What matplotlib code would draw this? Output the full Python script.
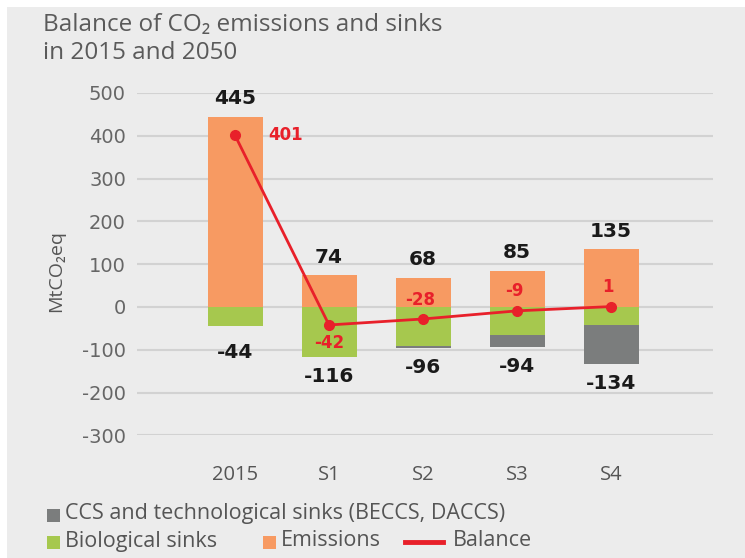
import matplotlib
matplotlib.use('Agg')
import matplotlib.pyplot as plt
from matplotlib.patches import Rectangle
from matplotlib.lines import Line2D
import numpy as np

categories = ['2015', 'S1', 'S2', 'S3', 'S4']
emissions = [445, 74, 68, 85, 135]
bio_sinks = [-44, -116, -90, -66, -42]
ccs_sinks = [0, 0, -6, -28, -92]
total_sinks = [-44, -116, -96, -94, -134]
balance = [401, -42, -28, -9, 1]
yticks = [-300, -200, -100, 0, 100, 200, 300, 400, 500]

C_EMI = '#F79A62'
C_BIO = '#A6C84E'
C_CCS = '#7B7D7D'
C_BAL = '#E8202A'
BG = '#ECECEC'
HUM = ['Open Sans', 'DejaVu Sans']
GEO = ['DejaVu Sans']

W, H = 745, 558
fig = plt.figure(figsize=(W / 100, H / 100), dpi=100)
fig.patch.set_facecolor('white')
fig.patches.append(Rectangle((7 / W, 0), 1, (H - 7) / H, transform=fig.transFigure,
                             facecolor=BG, edgecolor='none', zorder=-10))

ax = fig.add_axes([137 / W, (H - 435.4) / H, (713 - 137) / W, (435.4 - 93) / H])
ax.set_facecolor('none')

x = np.arange(len(categories))
bw = 0.585
ax.bar(x, emissions, width=bw, color=C_EMI, zorder=2)
ax.bar(x, bio_sinks, width=bw, color=C_BIO, zorder=2)
ax.bar(x, ccs_sinks, width=bw, bottom=bio_sinks, color=C_CCS, zorder=2)
ax.plot(x, balance, color=C_BAL, lw=2, marker='o', ms=7, zorder=4)

for xi, v in zip(x, emissions):
    ax.annotate(str(v), (xi, v), xytext=(0, 13), textcoords='offset points',
                ha='center', va='center', fontsize=14.5, fontweight='bold',
                color='#1a1a1a', family=GEO, annotation_clip=False)
for i, (xi, v) in enumerate(zip(x, total_sinks)):
    dy = -19 if i == 0 else -14
    ax.annotate(str(v), (xi, v), xytext=(0, dy), textcoords='offset points',
                ha='center', va='center', fontsize=14.5, fontweight='bold',
                color='#1a1a1a', family=GEO, annotation_clip=False)
for i, (xi, v) in enumerate(zip(x, balance)):
    if i == 0:
        off, ha = (24, 0), 'left'
    elif i == 1:
        off, ha = (0, -13), 'center'
    else:
        off, ha = (-2, 14), 'center'
    ax.annotate(str(v), (xi, v), xytext=off, textcoords='offset points',
                ha=ha, va='center', fontsize=12, fontweight='bold',
                color=C_BAL, family=GEO, zorder=5)

ax.set_xlim(-1.043, 5.085)
ax.set_ylim(-300, 500)
ax.set_yticks(yticks)
ax.set_yticklabels([str(t) for t in yticks], family=GEO, fontsize=14, color='#666666')
ax.set_xticks(x)
ax.set_xticklabels(categories, family=HUM, fontsize=14.5, color='#555555')
ax.tick_params(axis='both', length=0)
ax.tick_params(axis='y', pad=8)
ax.tick_params(axis='x', pad=21)
ax.grid(axis='y', color='#D2D2D2', lw=1.5, zorder=0)
for s in ax.spines.values():
    s.set_visible(False)

fig.text(56 / W, 1 - 271 / H, 'MtCO\u2082eq', rotation=90, ha='center', va='center',
         family=HUM, fontsize=14, color='#555555')

fig.text(43 / W, 1 - 39 / H, 'Balance of CO\u2082 emissions and sinks\nin 2015 and 2050',
         ha='left', va='center', family=HUM, fontsize=17.5, color='#5a5a5a', linespacing=1.2)

# legend
def sq(xp, yp, color):
    fig.patches.append(Rectangle((xp / W, 1 - (yp + 6.5) / H), 13 / W, 13 / H,
                                 transform=fig.transFigure, facecolor=color, edgecolor='none'))

def lab(xp, yp, s):
    fig.text(xp / W, 1 - yp / H, s, ha='left', va='center', family=HUM,
             fontsize=15.5, color='#555555')

sq(47, 515, C_CCS)
lab(65, 514, 'CCS and technological sinks (BECCS, DACCS)')
sq(47, 542, C_BIO)
lab(65, 541, 'Biological sinks')
sq(263, 542, C_EMI)
lab(281, 541, 'Emissions')
fig.lines.append(Line2D([405 / W, 443 / W], [1 - 542 / H, 1 - 542 / H],
                        transform=fig.transFigure, color=C_BAL, lw=3.5))
lab(453, 541, 'Balance')

fig.savefig('out.png', dpi=100, facecolor=fig.get_facecolor())
